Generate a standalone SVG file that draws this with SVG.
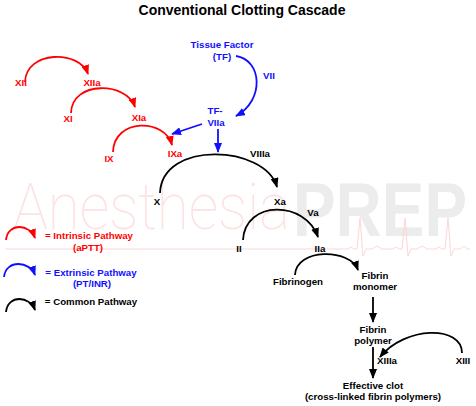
<svg xmlns="http://www.w3.org/2000/svg" width="476" height="406" viewBox="0 0 476 406">
<style>
text{font-family:"Liberation Sans",Arial,sans-serif;font-weight:bold;font-size:9.7px;text-anchor:middle}
.r{fill:#ff0000}.b{fill:#1010ff}.k{fill:#000}
.title{font-size:14px}
.cr{fill:none;stroke:#ff0000;stroke-width:1.8}
.cb{fill:none;stroke:#1010ff;stroke-width:1.8}
.ck{fill:none;stroke:#000;stroke-width:1.8}
.wm1{font-family:Roboto,"Liberation Sans",sans-serif;font-weight:100;font-size:65px;fill:#fde2e2;text-anchor:start}
.wm2{font-family:"Liberation Sans",Arial,sans-serif;font-weight:bold;font-size:76px;fill:#ececec;text-anchor:start}
</style>
<defs>
<marker id="ar" markerUnits="userSpaceOnUse" markerWidth="10" markerHeight="8" refX="9" refY="4" orient="auto"><path d="M0,0 L10,4 L0,8 z" fill="#ff0000"/></marker>
<marker id="ab" markerUnits="userSpaceOnUse" markerWidth="10" markerHeight="8" refX="9" refY="4" orient="auto"><path d="M0,0 L10,4 L0,8 z" fill="#1010ff"/></marker>
<marker id="ak" markerUnits="userSpaceOnUse" markerWidth="10" markerHeight="8" refX="9" refY="4" orient="auto"><path d="M0,0 L10,4 L0,8 z" fill="#000"/></marker>
</defs>
<rect width="476" height="406" fill="#fff"/>
<g id="watermark">
<text class="wm1" x="13" y="229" textLength="277" lengthAdjust="spacingAndGlyphs">Anesthesia</text>
<text class="wm2" x="293" y="236" textLength="174" lengthAdjust="spacingAndGlyphs">PREP</text>
<path d="M5,249 H348 l3,-2 l3,2 H357 l3,-31 l3,38 l3,-7 H372 l5,-3 l5,3 H393 l3,-2 l3,2 H402 l3,-31 l3,38 l3,-7 H417 l5,-3 l5,3 H436 l3,-2 l3,2 H445 l3,-31 l3,38 l3,-7 H460 l4,-3 l4,3 H470" fill="none" stroke="#fdd6d6" stroke-width="1"/>
</g>
<text class="k title" x="242" y="15">Conventional Clotting Cascade</text>
<g id="connectors">
<path class="cr" d="M25,82 C26,50 80,50 88,74" marker-end="url(#ar)"/>
<path class="cr" d="M71,113 C72,80 127,82 135,107" marker-end="url(#ar)"/>
<path class="cr" d="M113,152 C114,118 165,118 172,145" marker-end="url(#ar)"/>
<path class="cb" d="M236,56 C262,60 265,100 236,116" marker-end="url(#ab)"/>
<path class="cb" d="M202,124 L172,134" marker-end="url(#ab)"/>
<path class="cb" d="M218,129 L218,152" marker-end="url(#ab)"/>
<path class="ck" d="M160,193 C162,140 265,145 277,187" marker-end="url(#ak)"/>
<path class="ck" d="M243,240 C245,200 305,200 318,237" marker-end="url(#ak)"/>
<path class="ck" d="M295,275 C296,248 350,248 358,270" marker-end="url(#ak)"/>
<path class="ck" d="M373,297 L373,322" marker-end="url(#ak)"/>
<path class="ck" d="M373,347 L373,378" marker-end="url(#ak)"/>
<path class="ck" d="M462,353 C462,325 405,326 380,357" marker-end="url(#ak)"/>
<path class="cr" d="M6,240 C8,222 30,224 35,238" marker-end="url(#ar)"/>
<path class="cb" d="M4,277 C6,259 30,261 35,275" marker-end="url(#ab)"/>
<path class="ck" d="M6,312 C8,294 30,296 35,310" marker-end="url(#ak)"/>
</g>
<g id="n-XII"><text class="r" x="21" y="86">XII</text></g>
<g id="n-XIIa"><text class="r" x="92" y="86">XIIa</text></g>
<g id="n-XI"><text class="r" x="68" y="122">XI</text></g>
<g id="n-XIa"><text class="r" x="139" y="121">XIa</text></g>
<g id="n-IX"><text class="r" x="109" y="162">IX</text></g>
<g id="n-IXa"><text class="r" x="175" y="157">IXa</text></g>
<g id="n-TF"><text class="b" x="222" y="48">Tissue Factor</text><text class="b" x="222" y="60">(TF)</text></g>
<g id="n-VII"><text class="b" x="269" y="79">VII</text></g>
<g id="n-TFVIIa"><text class="b" x="215" y="114">TF-</text><text class="b" x="216" y="126">VIIa</text></g>
<g id="n-X"><text class="k" x="157" y="205">X</text></g>
<g id="n-VIIIa"><text class="k" x="260" y="157">VIIIa</text></g>
<g id="n-Xa"><text class="k" x="280" y="205">Xa</text></g>
<g id="n-Va"><text class="k" x="313" y="216">Va</text></g>
<g id="n-II"><text class="k" x="239" y="252">II</text></g>
<g id="n-IIa"><text class="k" x="320" y="252">IIa</text></g>
<g id="n-Fibrinogen"><text class="k" x="298" y="285">Fibrinogen</text></g>
<g id="n-FibrinMonomer"><text class="k" x="375" y="279">Fibrin</text><text class="k" x="375" y="290">monomer</text></g>
<g id="n-FibrinPolymer"><text class="k" x="373" y="333">Fibrin</text><text class="k" x="373" y="344">polymer</text></g>
<g id="n-XIIIa"><text class="k" x="387" y="364">XIIIa</text></g>
<g id="n-XIII"><text class="k" x="463" y="364">XIII</text></g>
<g id="n-Clot"><text class="k" x="373" y="389">Effective clot</text><text class="k" x="373" y="400">(cross-linked fibrin polymers)</text></g>
<g id="legend">
<text class="r" x="89" y="239">= Intrinsic Pathway</text><text class="r" x="88" y="251">(aPTT)</text>
<text class="b" x="91" y="276">= Extrinsic Pathway</text><text class="b" x="92" y="287">(PT/INR)</text>
<text class="k" x="91" y="305">= Common Pathway</text>
</g>
</svg>
